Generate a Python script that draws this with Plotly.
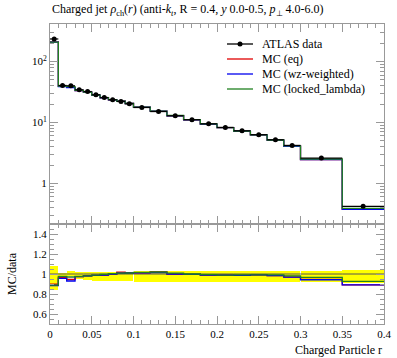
import math
import plotly.graph_objects as go
from plotly.subplots import make_subplots

# ---- data ----
bin_edges = [0.0, 0.01, 0.02, 0.03, 0.04, 0.05, 0.06, 0.07, 0.08, 0.09, 0.10,
             0.12, 0.14, 0.16, 0.18, 0.20, 0.22, 0.24, 0.26, 0.28, 0.30, 0.35, 0.40]
data_vals = [235, 40.5, 40.0, 34.4, 32.2, 28.5, 25.7, 23.6, 22.1, 20.3, 17.6,
             15.1, 12.9, 11.1, 9.5, 8.3, 7.3, 6.3, 5.2, 4.2, 2.6, 0.42]
data_err = [14, 1.2, 1.1, 0.9, 0.8, 0.7, 0.6, 0.55, 0.5, 0.5, 0.4,
            0.35, 0.3, 0.25, 0.22, 0.2, 0.18, 0.15, 0.13, 0.11, 0.07, 0.015]
mc_eq = [211, 39.1, 37.8, 33.5, 31.6, 28.1, 25.4, 23.6, 22.5, 20.5, 17.8,
         15.4, 12.9, 11.05, 9.4, 8.2, 7.2, 6.24, 5.12, 4.07, 2.46, 0.374]
mc_wz = [208, 38.7, 37.2, 33.5, 31.6, 28.1, 25.4, 23.6, 22.3, 20.5, 17.8,
         15.3, 12.9, 11.05, 9.4, 8.2, 7.2, 6.24, 5.12, 4.07, 2.45, 0.374]
mc_locked = [209, 39.5, 38.8, 33.6, 31.6, 28.2, 25.6, 23.7, 22.3, 20.5, 17.9,
             15.4, 13.0, 11.1, 9.45, 8.2, 7.23, 6.24, 5.15, 4.12, 2.51, 0.389]
band_hi = [1.077, 1.015, 1.033, 1.02, 1.02, 1.02, 1.02, 1.02, 1.02, 1.02, 1.03,
           1.03, 1.03, 1.03, 1.03, 1.03, 1.03, 1.03, 1.03, 1.03, 1.035, 1.045]
band_lo = [0.84, 0.975, 0.976, 0.955, 0.945, 0.935, 0.935, 0.935, 0.935, 0.935, 0.925,
           0.925, 0.925, 0.925, 0.925, 0.925, 0.925, 0.925, 0.925, 0.925, 0.92, 0.915]
x_tick_vals = [0, 0.05, 0.1, 0.15, 0.2, 0.25, 0.3, 0.35, 0.4]
x_tick_text = ["0", "0.05", "0.1", "0.15", "0.2", "0.25", "0.3", "0.35", "0.4"]
ratio_tick_vals = [0.6, 0.8, 1.0, 1.2, 1.4]
ratio_tick_text = ["0.6", "0.8", "1", "1.2", "1.4"]
legend_labels = ["ATLAS data", "MC (eq)", "MC (wz-weighted)", "MC (locked_lambda)"]

mc_series = [("MC (eq)", mc_eq, "#e00000"),
             ("MC (wz-weighted)", mc_wz, "#0000ee"),
             ("MC (locked_lambda)", mc_locked, "#208020")]
legend_colors = ["black", "#e00000", "#0000ee", "#208020"]

centers = [(a + b) / 2 for a, b in zip(bin_edges[:-1], bin_edges[1:])]
widths = [b - a for a, b in zip(bin_edges[:-1], bin_edges[1:])]
halfw = [w / 2 for w in widths]


def step(vals):
    return list(bin_edges), list(vals) + [vals[-1]]


FONT = "Liberation Serif"
W, H = 397, 358
ML, MR, MT, MB = 50, 13, 24, 34
PW, PH = W - ML - MR, H - MT - MB


def px2paper(px, py):
    return (px - ML) / PW, (H - MB - py) / PH


fig = make_subplots(rows=2, cols=1, shared_xaxes=True, vertical_spacing=0,
                    row_heights=[2 / 3, 1 / 3])

# main panel
for name, vals, col in mc_series:
    sx, sy = step(vals)
    fig.add_trace(go.Scatter(x=sx, y=sy, mode="lines", line=dict(color=col, width=1.3, shape="hv"),
                             name=name, showlegend=False), row=1, col=1)

fig.add_trace(go.Scatter(x=centers, y=data_vals, mode="markers",
                         marker=dict(color="black", size=5),
                         error_x=dict(type="data", array=halfw, color="black", thickness=1.2, width=0),
                         error_y=dict(type="data", array=data_err, color="black", thickness=1.2, width=0),
                         showlegend=False), row=1, col=1)

# ratio panel
fig.add_trace(go.Bar(x=centers, y=[h - l for h, l in zip(band_hi, band_lo)], base=band_lo,
                     width=[w * 0.995 for w in widths], marker=dict(color="#ffff00", line=dict(width=0)),
                     showlegend=False), row=2, col=1)
one = [d / d for d in data_vals]
sx, sy = step(one)
fig.add_trace(go.Scatter(x=sx, y=sy, mode="lines", line=dict(color="#555555", width=1, shape="hv"),
                         showlegend=False), row=2, col=1)
for name, vals, col in mc_series:
    ratio = [m / d for m, d in zip(vals, data_vals)]
    sx, sy = step(ratio)
    fig.add_trace(go.Scatter(x=sx, y=sy, mode="lines", line=dict(color=col, width=1.3, shape="hv"),
                             showlegend=False), row=2, col=1)

axcol = "#999999"
common_x = dict(range=[0, 0.4], showgrid=False, zeroline=False, showline=True, linecolor=axcol,
                linewidth=1, mirror="allticks", ticks="inside", ticklen=8, tickcolor=axcol,
                automargin=False,
                minor=dict(ticks="inside", ticklen=4, dtick=0.01, tick0=0, tickcolor=axcol, showgrid=False))
fig.update_xaxes(**common_x, showticklabels=False, tickvals=x_tick_vals, row=1, col=1)
fig.update_xaxes(**common_x, showticklabels=True, tickfont=dict(family=FONT, size=11, color="black"),
                 tickvals=x_tick_vals, ticktext=x_tick_text, row=2, col=1)

log_minor = [m * 10 ** e for e in (-1, 0, 1, 2) for m in range(2, 10) if 0.2 <= m * 10 ** e <= 420]
fig.update_yaxes(type="log", range=[math.log10(0.215), math.log10(414)], showgrid=False, zeroline=False,
                 showline=True, linecolor=axcol, linewidth=1, mirror="allticks", ticks="inside",
                 ticklen=8, tickcolor=axcol, automargin=False,
                 tickvals=[1, 10, 100], ticktext=["1", "10<sup>1</sup>", "10<sup>2</sup>"],
                 tickfont=dict(family=FONT, size=11, color="black"),
                 minor=dict(ticks="inside", ticklen=4, tickvals=log_minor, tickcolor=axcol, showgrid=False),
                 row=1, col=1)
fig.update_yaxes(range=[0.5, 1.5], showgrid=False, zeroline=False, showline=True, linecolor=axcol,
                 linewidth=1, mirror="allticks", ticks="inside", ticklen=8, tickcolor=axcol,
                 automargin=False,
                 tickvals=ratio_tick_vals, ticktext=ratio_tick_text,
                 tickfont=dict(family=FONT, size=11, color="black"),
                 minor=dict(ticks="inside", ticklen=4, dtick=0.05, tick0=0, tickcolor=axcol, showgrid=False),
                 row=2, col=1)

# manual legend (paper coordinates)
shapes, annotations = [], []
for i, (lab, col) in enumerate(zip(legend_labels, legend_colors)):
    py = 44 + 15 * i
    x0, y0 = px2paper(227, py)
    x1, _ = px2paper(253, py)
    shapes.append(dict(type="line", xref="paper", yref="paper", x0=x0, x1=x1, y0=y0, y1=y0,
                       line=dict(color=col, width=1.3)))
    if i == 0:
        cx0, cy0 = px2paper(237.5, py + 2.5)
        cx1, cy1 = px2paper(242.5, py - 2.5)
        shapes.append(dict(type="circle", xref="paper", yref="paper", x0=cx0, x1=cx1, y0=cy0, y1=cy1,
                           fillcolor="black", line=dict(color="black", width=0)))
    tx, _ = px2paper(260, py)
    annotations.append(dict(text=lab, xref="paper", yref="paper", x=tx, y=y0, xanchor="left",
                            yanchor="middle", showarrow=False, font=dict(family=FONT, size=12)))

annotations += [
    dict(text="Charged jet <i>ρ</i><sub>ch</sub>(<i>r</i>) (anti-<i>k</i><sub><i>t</i></sub>, R = 0.4, "
              "<i>y</i> 0.0-0.5, <i>p</i><sub>⊥</sub> 4.0-6.0)",
         xref="paper", yref="paper", x=0, y=1, xanchor="left", yanchor="middle", yshift=14,
         showarrow=False, font=dict(family=FONT, size=12)),
    dict(text="Charged Particle r", xref="paper", yref="paper", x=1, y=0, xanchor="right",
         yanchor="middle", yshift=-26, showarrow=False, font=dict(family=FONT, size=12)),
    dict(text="MC/data", xref="paper", yref="paper", x=0, y=1 / 6, xanchor="center",
         yanchor="middle", xshift=-38, textangle=-90, showarrow=False, font=dict(family=FONT, size=12)),
]

fig.update_layout(
    width=W, height=H,
    margin=dict(l=ML, r=MR, t=MT, b=MB, autoexpand=False),
    paper_bgcolor="white", plot_bgcolor="white",
    barmode="overlay", bargap=0,
    font=dict(family=FONT, size=11, color="black"),
    showlegend=False,
    hovermode=False,
    shapes=shapes,
    annotations=annotations,
)

fig.write_html("out.html", config={"displayModeBar": False, "staticPlot": True},
               post_script="document.body.style.margin='0';")
